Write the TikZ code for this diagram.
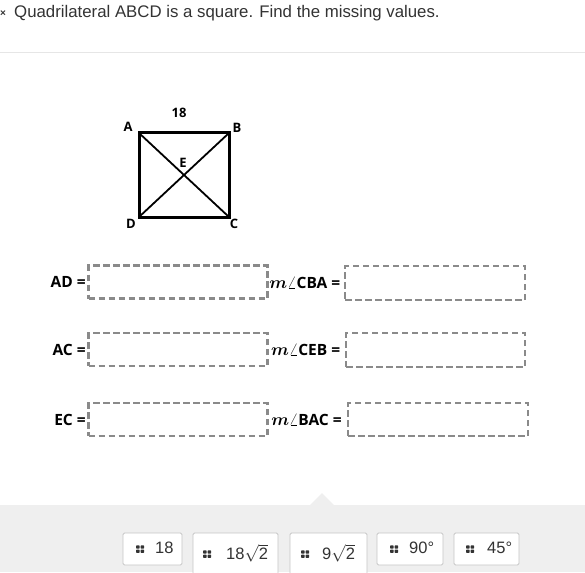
\documentclass[tikz,border=0pt]{standalone}
\usepackage{amsmath}
\usepackage{fontspec}
\setmainfont{Liberation Sans}
\newfontfamily\lblfont{Open Sans}
\definecolor{dash}{HTML}{8A8A8A}
\definecolor{panel}{HTML}{EFEFEF}
\definecolor{btnborder}{HTML}{C6C6C6}
\definecolor{txt}{HTML}{333333}
\definecolor{rule}{HTML}{E6E6E6}
\newcommand\gripat[1]{%
  \begin{scope}[shift={(#1)}]
    \fill[txt, rounded corners=0.6pt] (-3.8,-3.7) rectangle (-0.4,-0.4);
    \fill[txt, rounded corners=0.6pt] (0.6,-3.7) rectangle (4,-0.4);
    \fill[txt, rounded corners=0.6pt] (-3.8,0.6) rectangle (-0.4,3.9);
    \fill[txt, rounded corners=0.6pt] (0.6,0.6) rectangle (4,3.9);
  \end{scope}}
\newcommand\mang{{\fontsize{18.5}{19}\selectfont$\boldsymbol{m}\angle$}}
\begin{document}
\begin{tikzpicture}[x=1pt,y=-1pt,
  ansbox/.style={draw=dash, line width=2.2pt, dash pattern=on 6.5pt off 3.5pt, minimum height=33pt, inner sep=0pt},
  lbl/.style={anchor=east, inner sep=0pt, font=\lblfont\bfseries\fontsize{15.5}{17}\selectfont},
  pt/.style={inner sep=0pt, font=\lblfont\bfseries\fontsize{13}{14}\selectfont},
  btn/.style={draw=btnborder, fill=white, line width=0.8pt, rounded corners=1.5pt},
  btntxt/.style={anchor=west, inner sep=0pt, text=txt, font=\fontsize{16.5}{18}\selectfont}]
\useasboundingbox (0,0) rectangle (585,572);
\fill[white] (0,0) rectangle (585,572);
% header
\node[anchor=west, inner sep=0pt, text=txt, font=\bfseries\fontsize{10}{11}\selectfont] (x) at (0,14) {×};
\node[anchor=west, inner sep=0pt, text=txt, font=\fontsize{16.8}{19}\selectfont] (title) at (14,13) {Quadrilateral ABCD is a square. Find the missing values.};
\draw[rule, line width=1pt] (0,53) -- (585,53);
% square
\coordinate (A) at (139,133);
\coordinate (B) at (229,133);
\coordinate (C) at (229,217);
\coordinate (D) at (139,217);
\draw[line width=1.8pt] (A) -- (C) (B) -- (D);
\draw[line width=3pt] (A) rectangle (C);
\node[pt] (la) at (128,127) {A};
\node[pt] (lb) at (237,128) {B};
\node[pt] (lc) at (234,224) {C};
\node[pt] (ld) at (131,224) {D};
\node[pt] (le) at (183,163) {E};
\node[pt] (l18) at (179,113) {18};
% answer boxes
\node[ansbox, minimum width=179pt] (bAD) at (178,282) {};
\node[ansbox, minimum width=179pt] (bAC) at (178,349.5) {};
\node[ansbox, minimum width=179pt] (bEC) at (178,419.5) {};
\node[ansbox, minimum width=180pt, minimum height=34pt] (bCBA) at (435,283) {};
\node[ansbox, minimum width=179pt, minimum height=34pt] (bCEB) at (435.5,350) {};
\node[ansbox, minimum width=180pt] (bBAC) at (438,419.5) {};
\node[lbl] (tAD) at ([xshift=-1.5pt]bAD.west) {AD =};
\node[lbl] (tAC) at ([xshift=-1.5pt]bAC.west) {AC =};
\node[lbl] (tEC) at ([xshift=-1.5pt]bEC.west) {EC =};
\node[lbl] (tCBA) at ([xshift=-3.5pt]bCBA.west) {\mang CBA =};
\node[lbl] (tCEB) at ([xshift=-4.5pt]bCEB.west) {\mang CEB =};
\node[lbl] (tBAC) at ([xshift=-5pt]bBAC.west) {\mang BAC =};
% bottom panel
\fill[panel] (0,505) rectangle (585,572);
\fill[panel] (310,505) -- (322,493) -- (334,505) -- cycle;
\draw[btn] (123,533) rectangle (182,565);
\draw[btn] (193,533) rectangle (278,580);
\draw[btn] (290,533) rectangle (367,580);
\draw[btn] (377,533) rectangle (443,565);
\draw[btn] (454,533) rectangle (519,565);
\gripat{140,549}
\gripat{207,554}
\gripat{305,554}
\gripat{394,549}
\gripat{470,549}
\node[btntxt] (v1) at (155,548) {18};
\node[btntxt] (v2) at (226,553) {18$\sqrt{\mbox{2}}$};
\node[btntxt] (v3) at (322,553) {9$\sqrt{\mbox{2}}$};
\node[btntxt] (v4) at (409,548) {90°};
\node[btntxt] (v5) at (487,548) {45°};
\end{tikzpicture}
\end{document}
